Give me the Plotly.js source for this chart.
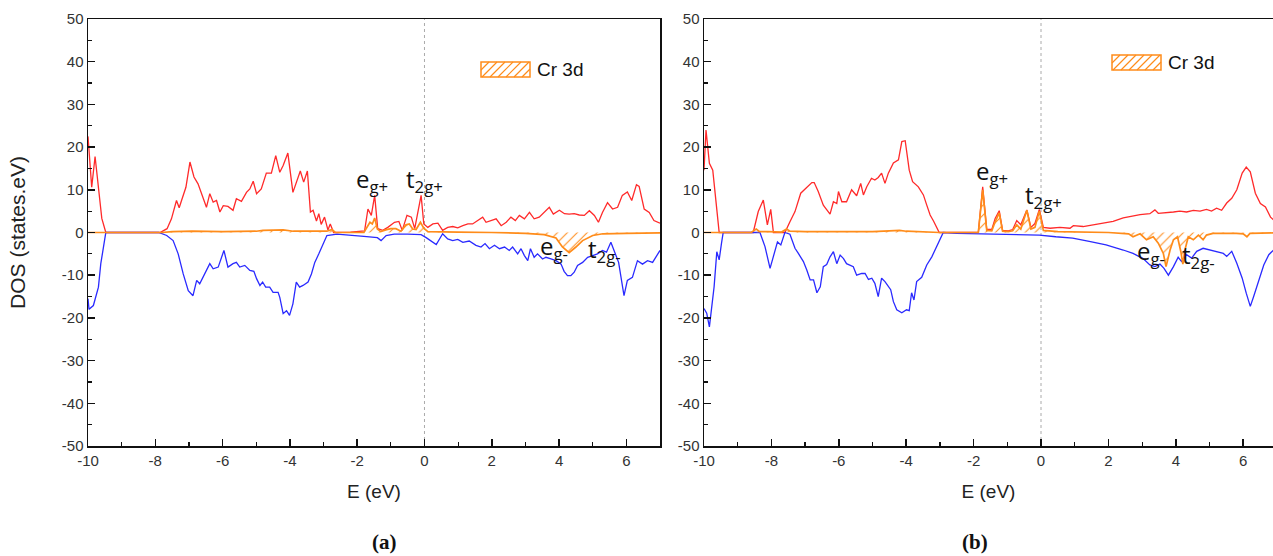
<!DOCTYPE html>
<html>
<head>
<meta charset="utf-8">
<script src="https://cdn.plot.ly/plotly-3.0.1.min.js"></script>
<style>html,body{margin:0;padding:0;background:#fff;}#chart{width:1273px;height:556px;}</style>
</head>
<body>
<div id="chart"></div>
<script>
// ---------- Panel (a) ----------
const aUpE = [-10,-9.89,-9.79,-9.59,-9.47,-7.86,-7.65,-7.52,-7.37,-7.29,-7.22,-7.09,-6.97,-6.85,-6.73,-6.48,-6.38,-6.28,-6.18,-6.08,-5.98,-5.84,-5.69,-5.59,-5.44,-5.29,-5.19,-5.09,-4.99,-4.85,-4.70,-4.55,-4.42,-4.30,-4.20,-4.06,-3.91,-3.81,-3.69,-3.59,-3.48,-3.39,-3.31,-3.21,-3.14,-3.07,-2.97,-2.87,-2.80,-2.70,-2.2,-1.78,-1.68,-1.58,-1.48,-1.39,-1.24,-1.09,-0.89,-0.76,-0.66,-0.52,-0.39,-0.29,-0.10,-0.02,0.10,0.25,0.40,0.54,0.69,0.84,0.99,1.14,1.29,1.43,1.58,1.73,1.83,1.98,2.13,2.28,2.43,2.57,2.70,2.82,2.97,3.12,3.26,3.41,3.56,3.71,3.83,4.01,4.16,4.30,4.45,4.60,4.75,4.90,5.05,5.17,5.29,5.44,5.59,5.74,5.88,6.03,6.16,6.30,6.38,6.53,6.68,6.82,7.0];
const aUpDOS = [22.5,10.6,17.8,3.3,0,0,0.9,3.2,7.5,5.8,7.5,10.6,16.5,13.0,11.4,5.9,9.1,7.1,7.5,4.8,6.3,6.1,5.2,7.9,7.3,9.4,10.2,12.0,9.1,10.2,13.9,13.9,18.0,14.1,15.7,18.6,9.4,11.8,14.4,11.8,14.4,4.8,5.2,2.7,4.4,1.9,3.6,0.6,2.0,0,0.1,0.4,5.5,4.0,8.7,0.9,0.5,1.2,2.4,2.6,0.5,4.0,3.6,0.9,8.7,2.0,1.2,2.0,2.2,0.5,1.2,1.4,1.1,1.6,2.0,2.0,2.8,3.6,2.4,2.8,3.2,1.6,2.4,3.6,2.8,4.0,3.2,4.7,3.2,3.6,4.7,5.9,4.3,5.2,4.4,4.3,4.4,4.1,4.0,5.1,4.0,2.4,4.7,7.0,5.5,5.9,8.7,9.5,7.5,11.2,10.8,5.5,4.7,2.8,2.2];

const aDnE = [-10,-9.97,-9.84,-9.69,-9.62,-9.56,-9.47,-7.9,-7.66,-7.47,-7.32,-7.17,-7.02,-6.88,-6.77,-6.68,-6.53,-6.38,-6.28,-6.13,-5.96,-5.84,-5.69,-5.59,-5.49,-5.34,-5.19,-5.07,-4.99,-4.89,-4.81,-4.72,-4.60,-4.50,-4.35,-4.30,-4.20,-4.10,-4.01,-3.91,-3.81,-3.71,-3.61,-3.46,-3.36,-3.26,-3.14,-3.02,-2.90,-2.6,-2.2,-1.8,-1.40,-1.29,-1.14,-0.9,-0.5,-0.1,0.05,0.35,0.54,0.69,0.84,0.99,1.14,1.33,1.53,1.68,1.80,1.93,2.08,2.23,2.38,2.52,2.62,2.77,2.87,2.97,3.07,3.15,3.26,3.36,3.51,3.61,3.76,3.91,4.06,4.15,4.25,4.35,4.45,4.55,4.70,4.85,5.00,5.14,5.29,5.41,5.54,5.64,5.77,5.93,6.03,6.18,6.33,6.48,6.63,6.78,6.93,7.0];
const aDnDOS = [-15.5,-18.0,-17.1,-12.8,-7.3,-4.2,0,0,-0.7,-1.9,-5.0,-9.7,-13.6,-14.8,-11.2,-12.0,-9.7,-7.3,-8.5,-8.1,-4.2,-8.1,-7.3,-7.0,-8.1,-7.7,-8.9,-9.1,-10.8,-12.4,-11.6,-12.8,-12.8,-14.0,-14.0,-15.2,-19.0,-18.3,-19.4,-16.7,-11.6,-12.8,-12.4,-11.6,-9.7,-7.0,-5.0,-3.0,-0.7,-0.4,-0.6,-0.9,-1.2,-1.9,-0.7,-0.4,-0.4,-0.5,-1.2,-2.8,-0.3,-1.5,-1.9,-1.6,-2.3,-2.0,-3.0,-3.4,-2.6,-3.8,-3.0,-3.8,-3.4,-4.2,-3.4,-5.0,-3.8,-5.4,-6.6,-3.8,-5.8,-5.0,-6.2,-5.8,-6.2,-6.6,-7.4,-9.1,-10.1,-10.1,-9.3,-7.7,-7.0,-5.8,-5.4,-5.0,-4.2,-4.6,-2.3,-4.2,-7.0,-14.8,-11.2,-10.5,-6.6,-7.4,-6.6,-7.0,-5.0,-4.2];

const aCrE = [-10,-9.5,-7.8,-7.5,-6.9,-6.0,-5.0,-4.8,-4.5,-4.2,-3.9,-3.2,-2.9,-2.75,-2.65,-1.8,-1.72,-1.62,-1.55,-1.48,-1.40,-1.3,-1.15,-1.0,-0.85,-0.7,-0.55,-0.45,-0.35,-0.25,-0.12,-0.02,0.1,0.5,1.0,2.0,2.5,3.0,3.56,3.91,4.10,4.30,4.50,4.70,5.0,5.3,6.0,7.0];
const aCrDOS = [0,0,0,0.2,0.3,0.2,0.3,0.5,0.6,0.6,0.3,0.2,0.3,0.7,0,0,1.2,2.4,2.0,3.4,0.8,0.2,0.6,0.9,0.9,0.3,1.8,2.0,0.8,0.7,2.4,1.0,0.2,0.1,0.1,0,-0.1,-0.2,-0.5,-1.3,-3.4,-4.7,-3.4,-1.9,-0.7,-0.3,-0.2,-0.1];

// ---------- Panel (b) ----------
const bUpE = [-10,-9.94,-9.84,-9.74,-9.55,-8.54,-8.39,-8.24,-8.12,-8.02,-7.94,-7.60,-7.45,-7.30,-7.13,-6.95,-6.80,-6.73,-6.61,-6.46,-6.26,-6.16,-6.06,-6.01,-5.91,-5.77,-5.62,-5.47,-5.35,-5.27,-5.17,-5.03,-4.93,-4.83,-4.73,-4.63,-4.53,-4.38,-4.23,-4.13,-4.03,-3.91,-3.81,-3.64,-3.49,-3.39,-3.29,-3.19,-3.10,-3.02,-1.86,-1.73,-1.61,-1.46,-1.36,-1.24,-1.14,-0.97,-0.84,-0.72,-0.60,-0.42,-0.30,-0.18,-0.05,0.07,0.27,0.56,0.86,0.96,1.25,1.55,1.84,2.14,2.44,2.69,2.94,3.23,3.38,3.48,3.73,3.93,4.12,4.32,4.52,4.72,4.91,5.06,5.21,5.36,5.51,5.66,5.81,5.97,6.09,6.21,6.36,6.51,6.66,6.81,6.95];
const bUpDOS = [14.6,24.0,16.2,14.6,0,0,4.9,7.6,1.8,5.4,0,0,2.5,4.9,9.2,10.7,11.7,11.7,9.6,6.4,4.3,7.2,6.8,9.6,7.2,7.2,10.0,8.6,11.5,8.8,10.7,12.7,12.3,12.9,13.9,11.5,13.9,16.3,17.0,21.3,21.5,14.6,11.9,10.7,8.8,6.4,4.1,2.7,1.4,0,0,10.7,0.7,0.7,3.3,5.1,0.5,0.4,0.7,2.8,1.8,5.3,1.2,2.1,5.4,1.2,1.0,1.2,1.0,1.6,1.4,1.8,2.2,2.6,3.4,3.8,4.2,4.4,5.3,4.5,4.6,4.8,5.0,4.8,5.2,5.0,5.4,5.0,5.7,5.2,6.9,8.0,10.0,13.9,15.3,14.2,9.2,6.8,6.0,3.6,2.6];

const bDnE = [-10,-9.92,-9.84,-9.77,-9.70,-9.62,-9.55,-9.48,-9.43,-8.34,-8.19,-8.04,-7.94,-7.82,-7.72,-7.60,-7.45,-7.30,-7.20,-7.05,-6.95,-6.85,-6.75,-6.65,-6.55,-6.46,-6.36,-6.26,-6.16,-6.06,-5.96,-5.86,-5.77,-5.67,-5.57,-5.47,-5.32,-5.22,-5.12,-5.02,-4.93,-4.83,-4.73,-4.63,-4.53,-4.46,-4.38,-4.28,-4.13,-3.99,-3.91,-3.84,-3.77,-3.69,-3.54,-3.39,-3.24,-3.10,-2.95,-2.90,-2.5,-1.5,-0.5,-0.05,0.44,0.94,1.43,1.93,2.44,2.73,3.03,3.23,3.38,3.53,3.65,3.78,3.93,4.07,4.17,4.32,4.47,4.62,4.81,5.01,5.21,5.41,5.51,5.66,5.81,5.97,6.09,6.21,6.31,6.46,6.61,6.76,6.90];
const bDnDOS = [-17.8,-18.9,-22.1,-17.4,-12.7,-4.5,-6.4,-2.5,0,0,-3.3,-8.4,-5.7,-2.2,-2.9,0,-0.4,-3.7,-4.9,-6.8,-8.8,-11.1,-11.1,-14.1,-12.7,-8.0,-7.5,-5.7,-4.5,-7.3,-5.3,-6.1,-7.3,-7.6,-8.0,-10.0,-9.6,-9.6,-11.0,-10.7,-11.9,-15.0,-10.7,-11.5,-12.7,-13.4,-16.2,-18.1,-18.8,-18.1,-18.3,-14.1,-15.8,-11.5,-10.5,-7.6,-5.7,-3.3,-0.6,0,-0.2,-0.3,-0.5,-0.6,-1.0,-1.3,-2.1,-2.9,-4.1,-4.9,-6.1,-7.6,-8.0,-7.4,-8.4,-10.0,-8.0,-5.8,-6.8,-5.2,-6.0,-4.4,-3.7,-4.1,-4.4,-4.9,-5.6,-4.4,-7.2,-10.7,-14.2,-17.3,-15.0,-11.1,-7.6,-5.2,-4.1];

const bCrE = [-10,-8.6,-8.45,-8.35,-8.1,-7.7,-7.55,-7.45,-7.0,-6.0,-5.5,-5.0,-4.5,-4.2,-4.0,-3.5,-3.0,-1.86,-1.73,-1.61,-1.46,-1.36,-1.24,-1.14,-0.97,-0.84,-0.72,-0.60,-0.42,-0.30,-0.18,-0.05,0.07,0.5,1.0,2.0,2.6,2.73,2.94,3.13,3.33,3.48,3.63,3.71,3.83,3.93,4.05,4.15,4.21,4.27,4.37,4.52,4.67,4.81,4.91,5.1,5.8,6.0,6.11,6.2,6.9];
const bCrDOS = [0,0,0.8,0.2,0.2,0.1,0.8,0.3,0.2,0.2,0.3,0.2,0.4,0.5,0.3,0.2,0,0,10.0,0.5,0.4,2.5,4.6,0.3,0.2,0.4,1.8,0.8,5.2,0.8,1.2,5.0,0.5,0.2,0.1,0,-0.3,-1.0,-0.3,-1.7,-1.0,-2.5,-4.9,-8.0,-4.1,-1.7,-1.0,-4.5,-7.4,-4.1,-1.0,-1.7,-0.6,-1.7,-0.6,-0.2,-0.2,-0.3,-1.0,-0.2,-0.1];

// ---------- Ticks & labels ----------
const xTickVals = [-10,-8,-6,-4,-2,0,2,4,6];
const xTickText = ['-10','-8','-6','-4','-2','0','2','4','6'];
const yTickVals = [-50,-40,-30,-20,-10,0,10,20,30,40,50];
const yTickText = ['-50','-40','-30','-20','-10','0','10','20','30','40','50'];
const seriesName = 'Cr 3d';
const xTitle = 'E (eV)';
const yTitle = 'DOS (states.eV)';
const panelLabels = ['(a)', '(b)'];
const stateLabels = ['e<sub>g+</sub>', 't<sub>2g+</sub>', 'e<sub>g-</sub>', 't<sub>2g-</sub>'];
const aLabelE = [-1.57, 0.0, 3.86, 5.34];
const aLabelDOS = [12.3, 12.4, -3.3, -4.0];
const bLabelE = [-1.45, 0.06, 3.26, 4.66];
const bLabelDOS = [14.2, 8.5, -4.6, -5.4];
const fermiLevel = 0;

const RED = '#ff2a2a', BLUE = '#2a2aff', ORANGE = '#ff8c1a';
const W = 1273, PLOT_TOP = 19, PLOT_BOTTOM = 446;
const PH = PLOT_BOTTOM - PLOT_TOP;
const px2x = p => p / W;
const px2y = p => (PLOT_BOTTOM - p) / PH;

function line(x, y, color, xa, ya) {
  return {x, y, type: 'scatter', mode: 'lines', xaxis: xa, yaxis: ya,
    line: {color, width: 1.3}, showlegend: false, hoverinfo: 'skip'};
}
function cr(x, y, xa, ya) {
  return {x, y, type: 'scatter', mode: 'lines', xaxis: xa, yaxis: ya, name: seriesName,
    line: {color: ORANGE, width: 1.7}, fill: 'tozeroy',
    fillcolor: 'rgba(255,255,255,0)',
    fillpattern: {shape: '/', fgcolor: ORANGE, bgcolor: 'rgba(255,255,255,0)', size: 7, solidity: 0.15},
    showlegend: false, hoverinfo: 'skip'};
}

const data = [
  line(aUpE, aUpDOS, RED, 'x', 'y'),
  line(aDnE, aDnDOS, BLUE, 'x', 'y'),
  cr(aCrE, aCrDOS, 'x', 'y'),
  line(bUpE, bUpDOS, RED, 'x2', 'y2'),
  line(bDnE, bDnDOS, BLUE, 'x2', 'y2'),
  cr(bCrE, bCrDOS, 'x2', 'y2')
];

const tickFont = {family: 'Liberation Sans, Arial, sans-serif', size: 15, color: '#333'};
function xax(domain, range) {
  return {domain, range, showgrid: false, zeroline: false, showline: true, linecolor: '#111', linewidth: 1.5,
    mirror: true, ticks: 'inside', ticklen: 7, tickwidth: 1.5, tickcolor: '#111',
    tickmode: 'array', tickvals: xTickVals, ticktext: xTickText,
    minor: {ticks: 'inside', ticklen: 4, dtick: 1, tick0: 0, tickwidth: 1.2, tickcolor: '#111'},
    tickfont: tickFont, title: {text: xTitle, font: {family: 'Liberation Sans, Arial, sans-serif', size: 19, color: '#222'}, standoff: 17}};
}
function yax(anchor, mirror, withTitle) {
  const ax = {anchor, domain: [0, 1], range: [-50, 50], showgrid: false, zeroline: false, showline: true,
    linecolor: '#111', linewidth: 1.5, mirror: mirror, ticks: 'inside', ticklen: 7, tickwidth: 1.5, tickcolor: '#111',
    tickmode: 'array', tickvals: yTickVals, ticktext: yTickText,
    minor: {ticks: 'inside', ticklen: 4, dtick: 5, tick0: 0, tickwidth: 1.2, tickcolor: '#111'},
    tickfont: tickFont};
  if (withTitle) ax.title = {text: yTitle, font: {family: 'Liberation Sans, Arial, sans-serif', size: 21, color: '#222'}, standoff: 30};
  return ax;
}

const annotations = [];
const labFont = {family: 'Open Sans, Noto Sans, sans-serif', size: 24, color: '#111'};
stateLabels.forEach((t, i) => {
  annotations.push({xref: 'x', yref: 'y', x: aLabelE[i], y: aLabelDOS[i], text: t, showarrow: false, font: labFont});
  annotations.push({xref: 'x2', yref: 'y2', x: bLabelE[i], y: bLabelDOS[i], text: t, showarrow: false, font: labFont});
});
const serif = {family: 'Liberation Serif, Times New Roman, serif', size: 21, color: '#111'};
annotations.push({xref: 'paper', yref: 'paper', x: px2x(370), y: px2y(542), yanchor: 'middle', text: '<b>' + panelLabels[0] + '</b>', showarrow: false, font: serif});
annotations.push({xref: 'paper', yref: 'paper', x: px2x(990), y: px2y(542), yanchor: 'middle', text: '<b>' + panelLabels[1] + '</b>', showarrow: false, font: serif});

// legend boxes (hatched swatch + label), one per panel
const shapes = [
  {type: 'line', xref: 'x', yref: 'y domain', x0: fermiLevel, x1: fermiLevel, y0: 0, y1: 1, line: {color: '#aaa', width: 1, dash: 'dot'}, layer: 'below'},
  {type: 'line', xref: 'x2', yref: 'y2 domain', x0: fermiLevel, x1: fermiLevel, y0: 0, y1: 1, line: {color: '#aaa', width: 1, dash: 'dot'}, layer: 'below'}
];
function legendItem(left, top) {
  const w = 49, h = 15, step = 8;
  let path = '';
  for (let k = -h; k < w; k += step) {
    const t0 = Math.max(0, -k), t1 = Math.min(h, w - k);
    if (t1 <= t0) continue;
    const xa = left + k + t0, ya = top + h - t0, xb = left + k + t1, yb = top + h - t1;
    path += `M${px2x(xa)},${px2y(ya)}L${px2x(xb)},${px2y(yb)}`;
  }
  shapes.push({type: 'path', xref: 'paper', yref: 'paper', path, line: {color: ORANGE, width: 1.2}});
  shapes.push({type: 'rect', xref: 'paper', yref: 'paper', x0: px2x(left), x1: px2x(left + w), y0: px2y(top + h), y1: px2y(top),
    line: {color: ORANGE, width: 1.5}, fillcolor: 'rgba(0,0,0,0)'});
  annotations.push({xref: 'paper', yref: 'paper', x: px2x(left + w + 5), y: px2y(top + h / 2), xanchor: 'left', yanchor: 'middle',
    text: seriesName, showarrow: false, font: {family: 'Liberation Sans, Arial, sans-serif', size: 19, color: '#111'}});
}
legendItem(481, 62);
legendItem(1112, 55);

const layout = {
  width: 1273, height: 556,
  margin: {l: 0, r: 0, t: PLOT_TOP, b: 556 - PLOT_BOTTOM},
  paper_bgcolor: '#fff', plot_bgcolor: '#fff',
  showlegend: false,
  xaxis: xax([88 / W, 660 / W], [-10, 7]),
  yaxis: yax('x', true, true),
  xaxis2: xax([704 / W, 1], [-10, 6.884]),
  yaxis2: yax('x2', false, false),
  shapes,
  annotations
};

Plotly.newPlot('chart', data, layout, {displayModeBar: false, staticPlot: true});
</script>
</body>
</html>
